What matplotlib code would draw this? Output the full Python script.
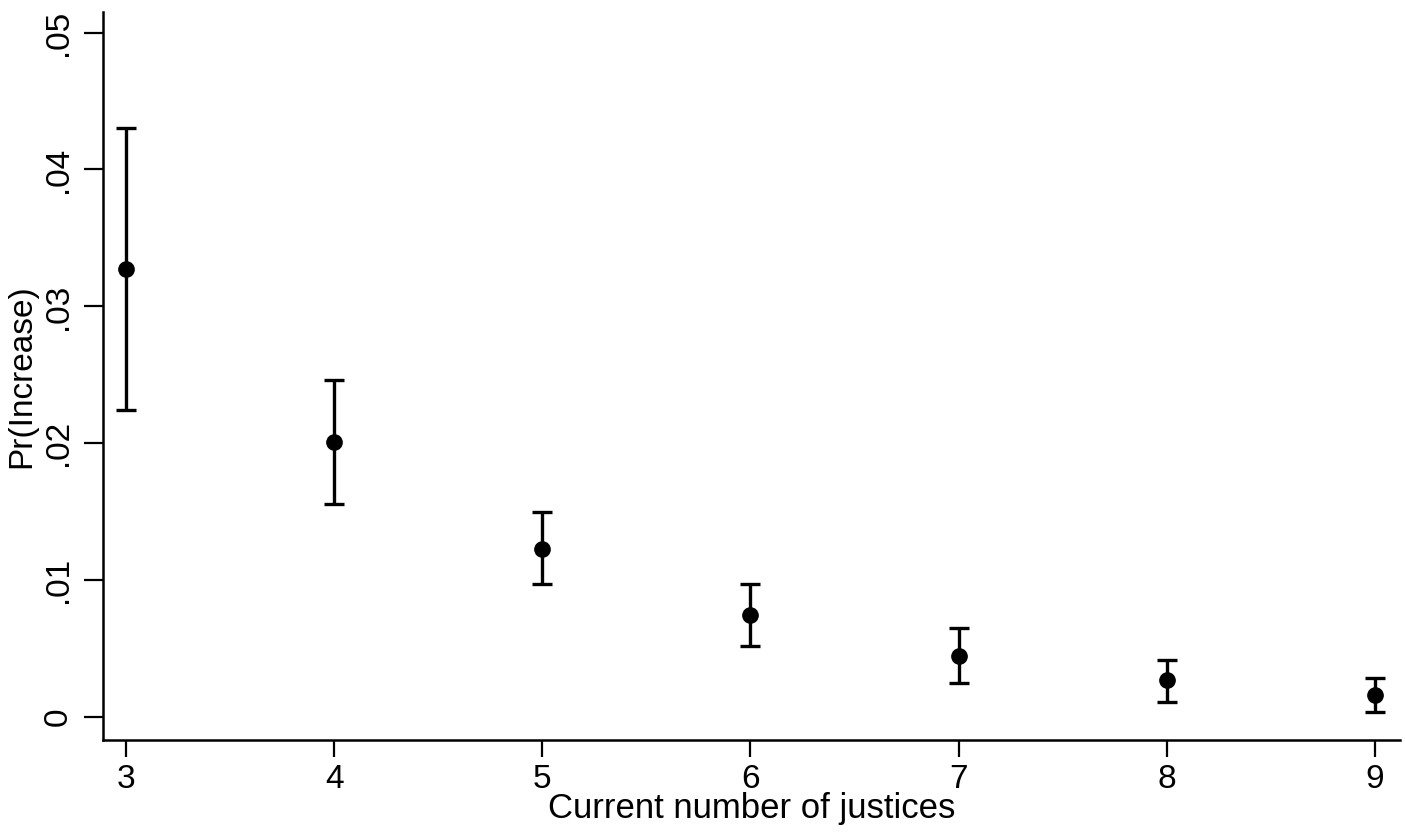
import numpy as np
import matplotlib
matplotlib.use("Agg")
import matplotlib.pyplot as plt

plt.rcParams['font.family'] = ['Liberation Sans', 'DejaVu Sans']

justices = [3, 4, 5, 6, 7, 8, 9]
pr_mean = [0.0327, 0.0201, 0.0123, 0.0075, 0.0045, 0.0027, 0.0016]
pr_lower = [0.0224, 0.0156, 0.0097, 0.0052, 0.0025, 0.0011, 0.0004]
pr_upper = [0.0430, 0.0246, 0.0150, 0.0097, 0.0065, 0.0042, 0.0029]
yticks = [0, 0.01, 0.02, 0.03, 0.04, 0.05]
ytick_labels = ["0", ".01", ".02", ".03", ".04", ".05"]

mean = np.array(pr_mean)
err = [mean - np.array(pr_lower), np.array(pr_upper) - mean]

fig = plt.figure(figsize=(14.05, 8.32), dpi=100)
ax = fig.add_axes([0.0733, 0.1106, 0.9231, 0.875])

ax.errorbar(justices, mean, yerr=err, fmt='o', color='black', ms=11,
            elinewidth=2.4, capsize=7, capthick=2.4)

ax.set_xlim(2.89, 9.12)
ax.set_ylim(-0.00166, 0.0515)
ax.set_xticks(justices)
ax.set_yticks(yticks)
ax.set_yticklabels(ytick_labels, rotation=90, va='center')
ax.tick_params(axis='both', direction='out', length=12, width=1.6,
               labelsize=24, colors='black')
ax.tick_params(axis='y', length=14, pad=7)
ax.tick_params(axis='x', pad=5)

for side in ['top', 'right']:
    ax.spines[side].set_visible(False)
for side in ['left', 'bottom']:
    ax.spines[side].set_linewidth(1.8)

ax.set_xlabel("Current number of justices", fontsize=25, labelpad=-2)
ax.set_ylabel("Pr(Increase)", fontsize=24, labelpad=4)

fig.savefig("out.png", dpi=100)
